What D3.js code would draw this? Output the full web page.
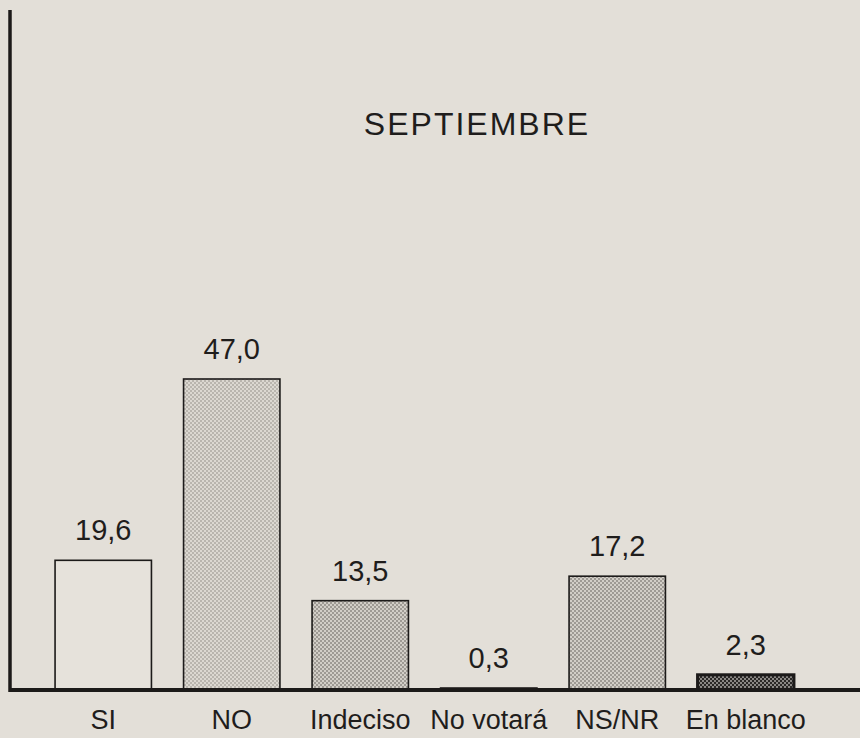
<!DOCTYPE html>
<html>
<head>
<meta charset="utf-8">
<script src="https://cdn.jsdelivr.net/npm/d3@7"></script>
<style>
  html, body { margin: 0; padding: 0; background: #e3dfd8; }
  svg { display: block; }
</style>
</head>
<body>
<svg id="chart" width="860" height="738"></svg>
<script>
// Encuesta, septiembre: intención de voto (%)
const categories = ["SI", "NO", "Indeciso", "No votará", "NS/NR", "En blanco"];
const values = [19.6, 47.0, 13.5, 0.3, 17.2, 2.3];
const fills = ["plain", "light", "mid", "light", "mid", "dark"];
const title = "SEPTIEMBRE";

const svg = d3.select("#chart");
const W = 860, H = 738;
const base = 690;

svg.append("rect").attr("width", W).attr("height", H).attr("fill", "#e3dfd8");

// stipple patterns
const defs = svg.append("defs");
function checker(id, bg, dot, size) {
  const p = defs.append("pattern")
    .attr("id", id).attr("patternUnits", "userSpaceOnUse")
    .attr("width", size * 2).attr("height", size * 2);
  p.append("rect").attr("width", size * 2).attr("height", size * 2).attr("fill", bg);
  p.append("rect").attr("width", size).attr("height", size).attr("fill", dot);
  p.append("rect").attr("x", size).attr("y", size).attr("width", size).attr("height", size).attr("fill", dot);
}
checker("light", "#dcd8d1", "#b9b5ae", 2);
checker("mid", "#d2cec7", "#9e9a94", 2);
checker("dark", "#8a8784", "#2a2826", 2);

const fillOf = {plain: "#e6e2db", light: "url(#light)", mid: "url(#mid)", dark: "url(#dark)"};

const x = d3.scaleBand()
  .domain(categories)
  .range([39, 810])
  .paddingInner(0.25)
  .paddingOuter(0.125);

const y = d3.scaleLinear()
  .domain([0, 47])
  .range([base, 379]);

const fmt = d3.formatLocale({decimal: ",", thousands: ".", grouping: [3], currency: ["", ""]}).format(".1f");

// bars
svg.append("g").selectAll("rect")
  .data(categories)
  .join("rect")
  .attr("x", d => x(d))
  .attr("y", (d, i) => y(values[i]))
  .attr("width", x.bandwidth())
  .attr("height", (d, i) => base - y(values[i]))
  .attr("fill", (d, i) => fillOf[fills[i]])
  .attr("stroke", "#1c1a19")
  .attr("stroke-width", (d, i) => fills[i] === "dark" ? 3 : 1.6);

// value labels
svg.append("g").selectAll("text")
  .data(categories)
  .join("text")
  .attr("x", d => x(d) + x.bandwidth() / 2)
  .attr("y", (d, i) => y(values[i]) - 20)
  .attr("text-anchor", "middle")
  .attr("font-family", "Liberation Sans, Arial, Helvetica, sans-serif")
  .attr("font-size", 29)
  .attr("fill", "#1f1d1c")
  .text((d, i) => fmt(values[i]));

// axes lines
svg.append("line")
  .attr("x1", 10).attr("x2", 10).attr("y1", 10).attr("y2", base + 2)
  .attr("stroke", "#1c1a19").attr("stroke-width", 3.5);
svg.append("line")
  .attr("x1", 9).attr("x2", W).attr("y1", base).attr("y2", base)
  .attr("stroke", "#1c1a19").attr("stroke-width", 4);

// category labels
svg.append("g").selectAll("text")
  .data(categories)
  .join("text")
  .attr("x", d => x(d) + x.bandwidth() / 2)
  .attr("y", 729)
  .attr("text-anchor", "middle")
  .attr("font-family", "Liberation Sans, Arial, Helvetica, sans-serif")
  .attr("font-size", 27)
  .attr("fill", "#1f1d1c")
  .text(d => d);

// title
svg.append("text")
  .attr("x", 477)
  .attr("y", 135)
  .attr("text-anchor", "middle")
  .attr("font-family", "Liberation Sans, Arial, Helvetica, sans-serif")
  .attr("font-size", 32)
  .attr("letter-spacing", 2)
  .attr("fill", "#1f1d1c")
  .text(title);
</script>
</body>
</html>
